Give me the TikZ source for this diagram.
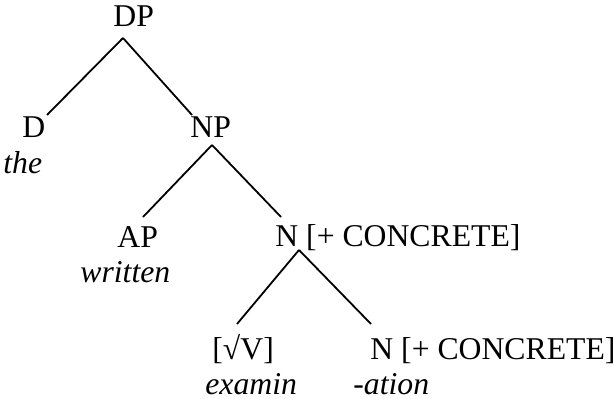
\documentclass[tikz,border=0pt]{standalone}
\usepackage{fontspec}
\setmainfont{Liberation Serif}
\usepackage{tikz}

\begin{document}
\begin{tikzpicture}[x=0.5pt,y=-0.5pt,
    lbl/.style={anchor=base west, inner sep=0pt, font=\fontsize{15.85}{19}\selectfont},
    word/.style={lbl, font=\fontsize{15.85}{19}\selectfont\itshape},
    branch/.style={line width=0.9pt}]
    \useasboundingbox (0,0) rectangle (614,399);

    % Categories
    \node[lbl] (dp) at (113,27) {DP};
    \node[lbl] (d) at (22,138) {D};
    \node[lbl] (np) at (190,138) {NP};
    \node[lbl] (ap) at (117,248) {AP};
    \node[lbl] (n1) at (275,247) {N [+ CONCRETE]};
    \node[lbl] (root) at (212,360) {[√V]};
    \node[lbl] (n2) at (370,360) {N [+ CONCRETE]};

    % Words
    \node[word] (the) at (3,174) {the};
    \node[word] (written) at (80,283) {written};
    \node[word] (examin) at (205,395) {examin};
    \node[word] (ation) at (353,395) {-ation};

    % Branch ends
    \coordinate (dp-foot) at (123,38);
    \coordinate (d-head) at (47,115);
    \coordinate (np-head) at (192,115);
    \coordinate (np-foot) at (212,145);
    \coordinate (ap-head) at (143,217);
    \coordinate (n1-head) at (281,217);
    \coordinate (n1-foot) at (299,250);
    \coordinate (root-head) at (237,324);
    \coordinate (n2-head) at (371,324);

    % Branches
    \foreach \a/\b in {dp-foot/d-head, dp-foot/np-head, np-foot/ap-head,
        np-foot/n1-head, n1-foot/root-head, n1-foot/n2-head}
        \draw[branch] (\a) -- (\b);
\end{tikzpicture}
\end{document}
